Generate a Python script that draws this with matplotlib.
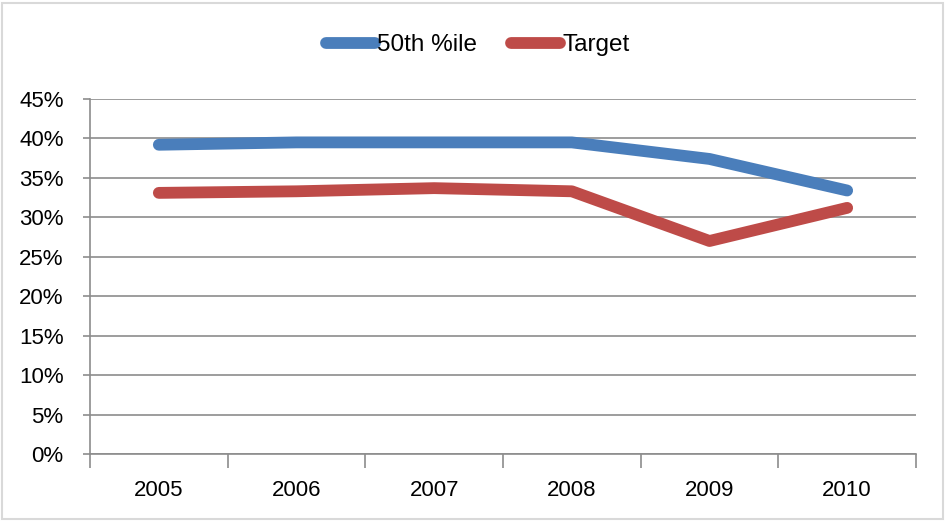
import numpy as np
import matplotlib.pyplot as plt
from matplotlib.ticker import FuncFormatter, FixedLocator
from matplotlib.patches import Rectangle

# 数据
years = ['2005', '2006', '2007', '2008', '2009', '2010']
pct_50th = [39.2, 39.5, 39.5, 39.5, 37.4, 33.4]
target = [33.1, 33.3, 33.7, 33.3, 27.0, 31.2]

plt.rcParams['font.family'] = ['Liberation Sans', 'DejaVu Sans']

fig = plt.figure(figsize=(9.46, 5.21), dpi=100)
ax = fig.add_axes([90 / 946, 1 - 454 / 521, (916 - 90) / 946, (454 - 99) / 521])

# 外框
fig.patches.append(Rectangle((2 / 946, 2 / 521), 941 / 946, 516 / 521,
                             transform=fig.transFigure, fill=False,
                             edgecolor='#d9d9d9', linewidth=1.5))

x = np.arange(len(years))
ax.plot(x, pct_50th, color='#4A7EBB', linewidth=8.5, solid_capstyle='round',
        solid_joinstyle='round', label='50th %ile', zorder=3)
ax.plot(x, target, color='#BE4B48', linewidth=8.5, solid_capstyle='round',
        solid_joinstyle='round', label='Target', zorder=3)

ax.set_xlim(-0.5, len(years) - 0.5)
ax.set_ylim(0, 45)
ax.set_yticks(np.arange(0, 46, 5))
ax.yaxis.set_major_formatter(FuncFormatter(lambda v, p: f'{v:.0f}%'))
ax.grid(axis='y', color='#8c8c8c', linewidth=1.2, zorder=0)

# 类别刻度在两类之间
ax.set_xticks(x)
ax.set_xticklabels(years)
ax.tick_params(axis='x', length=0, pad=19, labelsize=16)
ax.xaxis.set_minor_locator(FixedLocator(np.arange(-0.5, len(years), 1.0)))
ax.tick_params(axis='x', which='minor', length=10, color='#8c8c8c', width=1.2)
ax.tick_params(axis='y', length=5, color='#8c8c8c', width=1.2, labelsize=16, pad=14)

for s in ['top', 'right']:
    ax.spines[s].set_visible(False)
for s in ['left', 'bottom']:
    ax.spines[s].set_color('#8c8c8c')
    ax.spines[s].set_linewidth(1.2)

leg = fig.legend(loc='center', bbox_to_anchor=(478 / 946, 1 - 45 / 521), ncol=2,
                 frameon=False, fontsize=17.5, handlelength=2.0, handletextpad=0.1,
                 columnspacing=1.4)

fig.savefig('out.png', dpi=100)
